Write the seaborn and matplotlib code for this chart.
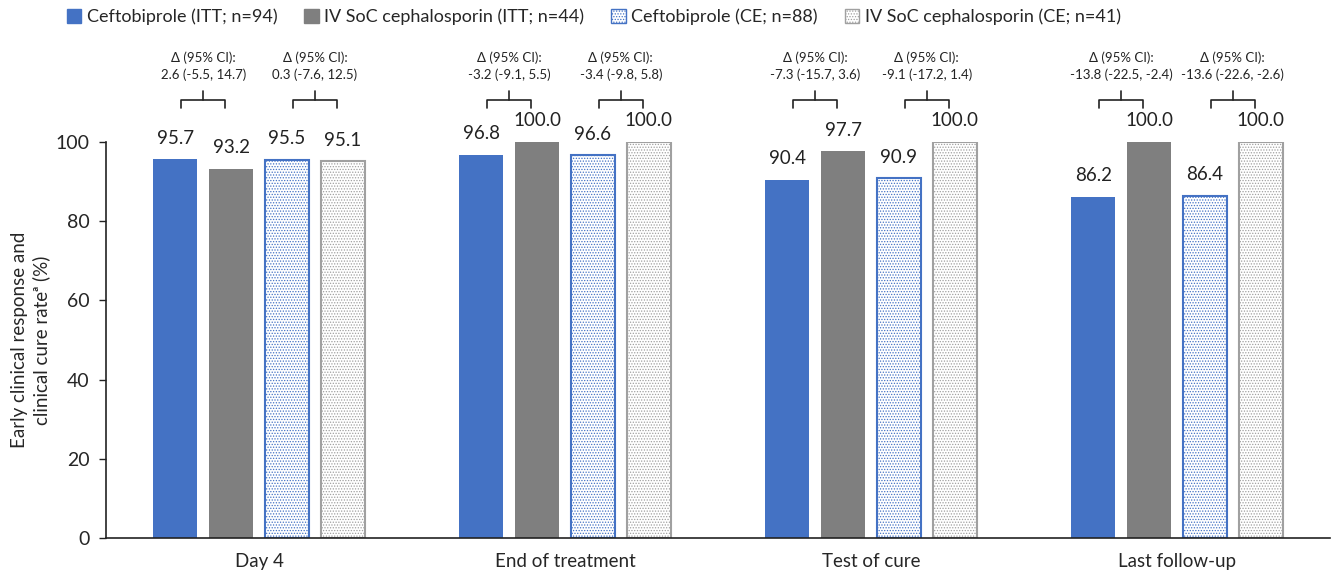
import pandas as pd
import matplotlib.pyplot as plt
import seaborn as sns
from matplotlib.patches import Patch

# data
timepoints = ["Day 4", "End of treatment", "Test of cure", "Last follow-up"]
groups = ["Ceftobiprole (ITT; n=94)", "IV SoC cephalosporin (ITT; n=44)",
          "Ceftobiprole (CE; n=88)", "IV SoC cephalosporin (CE; n=41)"]
cefto_itt = [95.7, 96.8, 90.4, 86.2]
soc_itt = [93.2, 100.0, 97.7, 100.0]
cefto_ce = [95.5, 96.6, 90.9, 86.4]
soc_ce = [95.1, 100.0, 100.0, 100.0]
delta_itt = ["2.6 (-5.5, 14.7)", "-3.2 (-9.1, 5.5)", "-7.3 (-15.7, 3.6)", "-13.8 (-22.5, -2.4)"]
delta_ce = ["0.3 (-7.6, 12.5)", "-3.4 (-9.8, 5.8)", "-9.1 (-17.2, 1.4)", "-13.6 (-22.6, -2.6)"]

df = pd.DataFrame({
    "timepoint": timepoints * 4,
    "group": [g for g in groups for _ in timepoints],
    "rate": cefto_itt + soc_itt + cefto_ce + soc_ce,
})

blue = "#4472C4"
gray = "#7F7F7F"
lightgray = "#A0A0A0"
palette = dict(zip(groups, [blue, gray, "white", "white"]))

sns.set_style("white")
plt.rcParams["font.family"] = ["Lato", "DejaVu Sans"]
plt.rcParams["hatch.linewidth"] = 0.6

fig = plt.figure(figsize=(13.34, 5.76), dpi=100)
ax = fig.add_axes([0.0795, 0.066, 0.9175, 0.6875])

sns.barplot(data=df, x="timepoint", y="rate", hue="group", palette=palette,
            width=0.73, gap=0.21, saturation=1, legend=False, ax=ax)

ce_style = {2: blue, 3: lightgray}
for i, cont in enumerate(ax.containers):
    for bar in cont:
        if i in ce_style:
            bar.set_edgecolor(ce_style[i])
            bar.set_linewidth(1.5)
            bar.set_hatch("......")
        else:
            bar.set_linewidth(0)
    ax.bar_label(cont, fmt="%.1f", padding=9, fontsize=13.5, color="#222222")

ax.set_ylim(0, 100)
ax.set_xlim(-0.5, 3.5)
ax.set_yticks(range(0, 101, 20))
ax.tick_params(axis="y", labelsize=14, length=5, width=1, color="#222222", left=True, pad=7)
ax.tick_params(axis="x", labelsize=13.5, length=0, pad=11)
ax.set_xlabel("")
ax.set_ylabel("Early clinical response and\nclinical cure rate\u1d43 (%)", fontsize=13.5,
              labelpad=4, linespacing=1.25)
sns.despine(ax=ax)
for s in ["left", "bottom"]:
    ax.spines[s].set_color("#222222")
    ax.spines[s].set_linewidth(1.2)

# brackets with treatment differences
def bracket(x1, x2, label):
    mid = (x1 + x2) / 2
    kw = dict(color="#222222", lw=1.2, clip_on=False)
    ax.plot([x1 + 0.02, x1 + 0.02, x2 - 0.02, x2 - 0.02], [108.6, 110.6, 110.6, 108.6], **kw)
    ax.plot([mid, mid], [110.6, 112.9], **kw)
    ax.text(mid, 115.5, label, ha="center", va="bottom", fontsize=9.5,
            linespacing=1.4, color="#222222", clip_on=False)

conts = ax.containers
for j in range(len(timepoints)):
    c = [conts[k][j].get_x() + conts[k][j].get_width() / 2 for k in range(4)]
    bracket(c[0], c[1], "\u0394 (95% CI):\n" + delta_itt[j])
    bracket(c[2], c[3], "\u0394 (95% CI):\n" + delta_ce[j])

handles = [
    Patch(facecolor=blue, edgecolor=blue),
    Patch(facecolor=gray, edgecolor=gray),
    Patch(facecolor="white", edgecolor=blue, hatch="......"),
    Patch(facecolor="white", edgecolor=lightgray, hatch="......"),
]
fig.legend(handles, groups, loc="center", bbox_to_anchor=(0.445, 1 - 17 / 576), ncol=4,
           frameon=False, fontsize=13, handlelength=0.8, handleheight=0.8,
           handletextpad=0.3, columnspacing=1.5)

fig.savefig("out.png", dpi=100)
